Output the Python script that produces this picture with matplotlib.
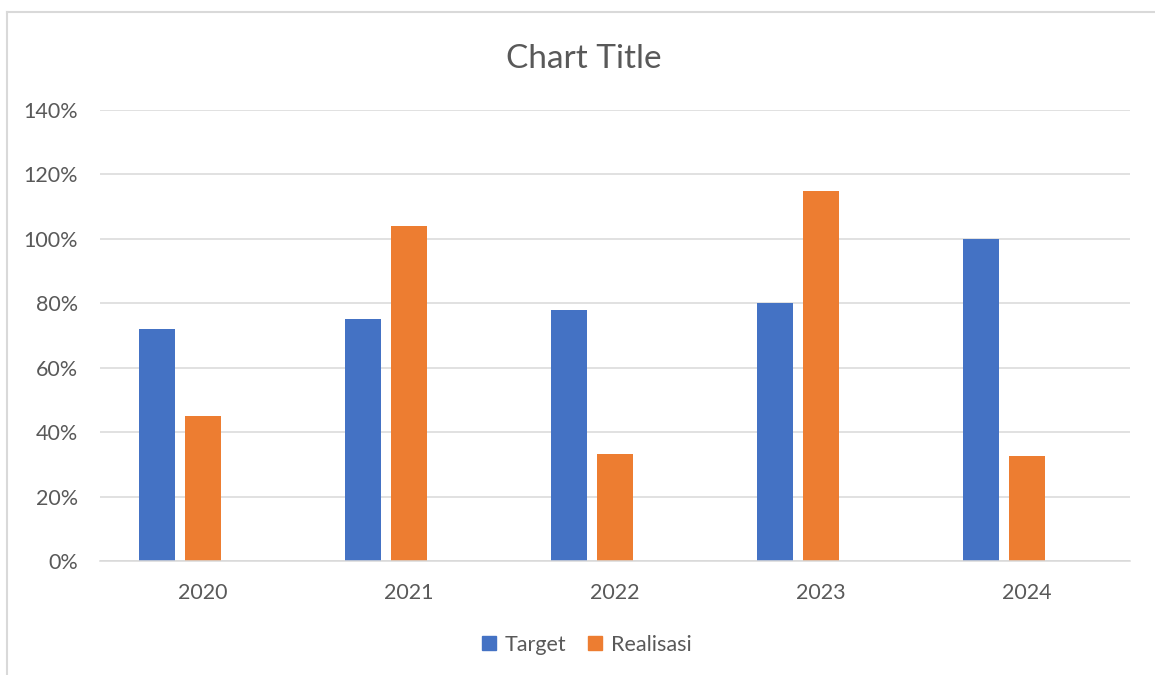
import matplotlib
matplotlib.use("Agg")
import matplotlib.pyplot as plt
from matplotlib.lines import Line2D
from matplotlib.patches import Patch
import numpy as np

years = ["2020", "2021", "2022", "2023", "2024"]
target = [72, 75, 78, 80, 100]
realisasi = [45, 104, 33.3, 115, 32.7]

BLUE = "#4472C4"
ORANGE = "#ED7D31"
GRID = "#D9D9D9"
TXT = "#595959"

plt.rcParams["font.family"] = ["Lato", "DejaVu Sans"]

fig = plt.figure(figsize=(11.55, 6.75), dpi=100)
ax = fig.add_axes([0.0866, 0.1689, 0.8918, 0.6681])

x = np.arange(len(years))
step = 0.2233
w = 0.175
ax.bar(x - step, target, width=w, color=BLUE, label="Target", zorder=2)
ax.bar(x, realisasi, width=w, color=ORANGE, label="Realisasi", zorder=2)

ax.set_xlim(-0.5, len(years) - 0.5)
ax.set_ylim(0, 140)
ax.set_yticks(range(0, 141, 20))
ax.set_yticklabels([f"{v}%" for v in range(0, 141, 20)])
ax.set_xticks(x)
ax.set_xticklabels(years)
ax.grid(axis="y", color=GRID, lw=1.1, zorder=0)
for s in ["top", "right", "left"]:
    ax.spines[s].set_visible(False)
ax.spines["bottom"].set_color(GRID)
ax.spines["bottom"].set_linewidth(1.1)
ax.tick_params(length=0, labelsize=15.5, colors=TXT)
ax.tick_params(axis="y", pad=16)
ax.tick_params(axis="x", pad=16)

fig.text(0.505, 0.913, "Chart Title", ha="center", va="center",
         fontsize=24, color=TXT)

handles = [Patch(color=BLUE), Patch(color=ORANGE)]
fig.legend(handles, ["Target", "Realisasi"], loc="center",
           bbox_to_anchor=(0.508, 0.045), ncol=2, frameon=False,
           fontsize=15.5, labelcolor=TXT, handlelength=0.65, handleheight=0.65,
           handletextpad=0.4, columnspacing=1.0)

# outer chart frame (partially cropped)
fig.add_artist(Line2D([7 / 1155, 1], [1 - 12 / 675] * 2, color=GRID, lw=1.5))
fig.add_artist(Line2D([7 / 1155] * 2, [0, 1 - 12 / 675], color=GRID, lw=1.5))

fig.savefig("out.png", dpi=100, facecolor="white")
